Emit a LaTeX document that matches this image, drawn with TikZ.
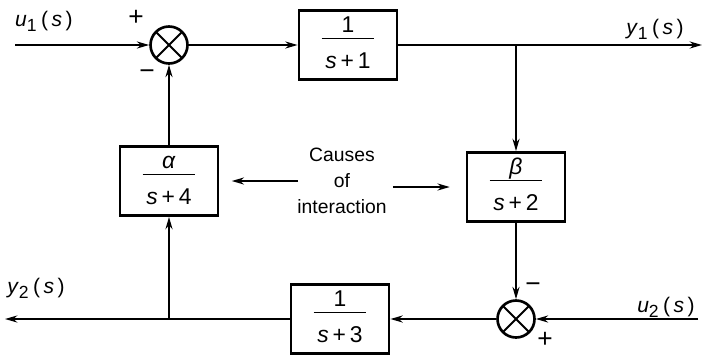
\documentclass[tikz,border=0pt]{standalone}
\usepackage{fontspec}
\setmainfont{Liberation Sans}
\usetikzlibrary{arrows.meta}
\tikzset{>={Stealth[length=7pt,width=4pt]},every node/.style={font=\fontsize{11}{13}\selectfont},
block/.style={draw,line width=1.6pt,minimum width=1.96cm,minimum height=1.38cm,inner sep=1pt,font=\fontsize{13}{15}\selectfont},
junction/.style={draw,circle,line width=1.5pt,minimum size=.74cm,inner sep=0pt,path picture={\draw[line width=1.1pt] (path picture bounding box.north west)--(path picture bounding box.south east) (path picture bounding box.north east)--(path picture bounding box.south west);}},
sign/.style={font=\fontsize{15}{15}\selectfont},sigtext/.style={font=\fontsize{12}{14}\selectfont},
flow/.style={line width=1.1pt,->},edge/.style={line width=1.1pt}}
\newcommand{\blkfrac}[2]{\setlength{\arrayrulewidth}{.7pt}\begin{tabular}{@{\,}c@{\,}}#1\\[-1pt]\hline\rule{0pt}{2.4ex}#2\end{tabular}}
\newcommand{\sig}[2]{\textit{#1}\textsubscript{\fontsize{10}{10}\selectfont#2}\,(\,\textit{s}\,)}
\begin{document}
\begin{tikzpicture}
\useasboundingbox (0,0) rectangle (14.04,7.12);
\node[junction] (sum1) at (3.38,6.22) {};\node[block] (g1) at (6.96,6.22) {\blkfrac{1}{\textit{s}\,+\,1}};
\node[block] (g2) at (10.32,3.38) {\blkfrac{\textit{β}}{\textit{s}\,+\,2}};\node[junction] (sum2) at (10.32,0.74) {};
\node[block] (g3) at (6.8,0.74) {\blkfrac{1}{\textit{s}\,+\,3}};\node[block] (g4) at (3.38,3.5) {\blkfrac{\textit{α}}{\textit{s}\,+\,4}};
\node[align=center,font=\fontsize{11}{14.7}\selectfont] (cause) at (6.84,3.5) {Causes\\of\\interaction};
\coordinate (u1in) at (0.3,6.22);\coordinate (y1out) at (14.04,6.22);\coordinate (br1) at (10.32,6.22);
\coordinate (u2in) at (13.96,0.74);\coordinate (y2out) at (0.1,0.74);\coordinate (br2) at (3.38,0.74);
\draw[flow] (u1in)--(sum1);\draw[flow] (sum1)--(g1);\draw[flow] (g1)--(y1out);\draw[flow] (br1)--(g2);\draw[flow] (g2)--(sum2);
\draw[flow] (u2in)--(sum2);\draw[flow] (sum2)--(g3);\draw[flow] (g3)--(y2out);\draw[flow] (br2)--(g4);\draw[flow] (g4)--(sum1);
\draw[flow,shorten <=-4pt,shorten >=7pt] (cause.west |- g4.east)--(g4.east);\draw[flow,shorten >=9pt] (cause.east |- g2.west)--(g2.west);
\node[sigtext] (lu1) at (0.88,6.7) {\sig{u}{1}};\node[sign] (lp1) at (2.72,6.76) {+};\node[sign] (lm1) at (2.94,5.62) {−};
\node[sigtext] (ly1) at (13.1,6.54) {\sig{y}{1}};\node[sigtext] (ly2) at (0.72,1.36) {\sig{y}{2}};\node[sigtext] (lu2) at (13.32,0.98) {\sig{u}{2}};
\node[sign] (lm2) at (10.66,1.36) {−};\node[sign] (lp2) at (10.9,0.32) {+};
\end{tikzpicture}
\end{document}
